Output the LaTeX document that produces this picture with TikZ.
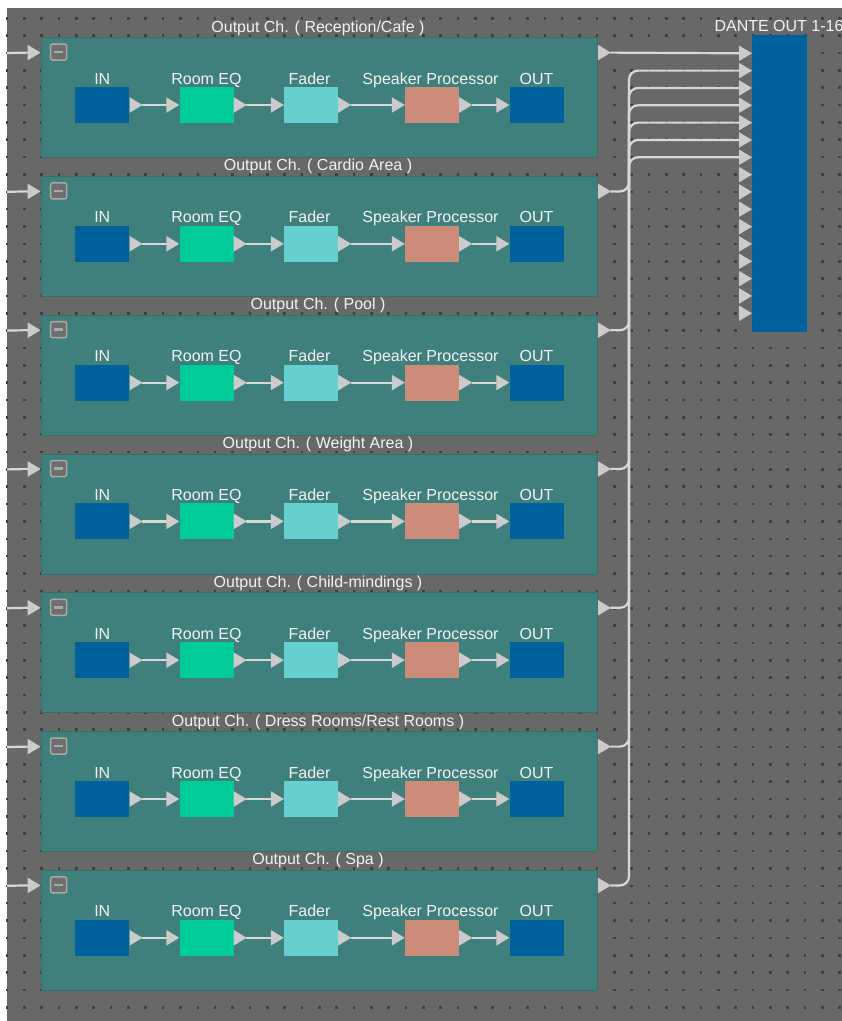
\documentclass[tikz,border=0pt]{standalone}
\usepackage{fontspec}
\setmainfont{Liberation Sans}
\usetikzlibrary{calc}
\definecolor{bgc}{HTML}{686868}
\definecolor{dotc}{HTML}{404040}
\definecolor{blkc}{HTML}{3F7F7C}
\definecolor{blkline}{HTML}{35706D}
\definecolor{inoutc}{HTML}{00629C}
\definecolor{eqc}{HTML}{00CC99}
\definecolor{fadc}{HTML}{66CFCF}
\definecolor{spc}{HTML}{CD8C7A}
\definecolor{portc}{HTML}{CBCBCB}
\definecolor{wirec}{HTML}{D8D8D8}
\definecolor{txtc}{HTML}{F2F2F2}
\definecolor{colc}{HTML}{6E6E6E}
\definecolor{colline}{HTML}{A9A9A9}
\newcommand\chname[1]{\ifcase#1\or Reception/Cafe\or Cardio Area\or Pool\or Weight Area\or Child-mindings\or Dress Rooms/Rest Rooms\or Spa\fi}
\begin{document}
\begin{tikzpicture}[x=1pt,y=-1pt,
  txt/.style={text=txtc, font=\fontsize{16}{19}\selectfont, inner sep=0pt, anchor=base},
  chblock/.style={fill=blkc, draw=blkline, line width=0.8pt, minimum width=556.5pt, minimum height=120pt, inner sep=0pt},
  proc/.style={minimum width=54pt, minimum height=36pt, inner sep=0pt},
  inout/.style={proc, fill=inoutc},
  roomeq/.style={proc, fill=eqc},
  fader/.style={proc, fill=fadc},
  spproc/.style={proc, fill=spc},
  dante/.style={fill=inoutc, minimum width=54.7pt, minimum height=296.7pt, inner sep=0pt},
  collapse/.style={fill=colc, draw=colline, line width=1.5pt, rounded corners=2pt, minimum size=16pt, inner sep=0pt},
  wire/.style={draw=wirec, line width=2.2pt},
  portR/.pic={\fill[portc] (0,-7.8) -- (13,0) -- (0,7.8) -- cycle;}
]
\useasboundingbox (0,0) rectangle (842,1021);
\clip (0,0) rectangle (842,1021);
% canvas
\fill[bgc] (7,7.5) rectangle (842,1021);
\foreach \i in {0,...,48}{
  \foreach \j in {0,...,57}{
    \fill[dotc] (6.95+17.35*\i-1.3, 18.3+17.35*\j-1.3) rectangle ++(2.6,2.6);
  }
}
\coordinate (bus) at (629,0);
% DANTE OUT
\node[dante] (dante) at (779.4,183.4) {};
\node[txt] (dantelbl) at (779,31) {DANTE OUT 1-16};
\foreach \j in {1,...,16}{
  \coordinate (dp\j) at (739,{53.3+17.33*(\j-1)});
  \pic at (dp\j) {portR};
}
% channel blocks
\foreach \k in {1,...,7}{
  \pgfmathsetmacro\T{37.5+138.8*(\k-1)}
  \node[chblock] (blk\k) at (319.25,\T+60) {};
  \node[txt] (ttl\k) at (318,\T-5.5) {Output Ch. ( \chname{\k} )};
  \node[collapse] (col\k) at ([xshift=18pt,yshift=-15pt]blk\k.north west) {};
  \fill[colline] ([xshift=-4.5pt,yshift=-1.3pt]col\k.center) rectangle ([xshift=4.5pt,yshift=1.3pt]col\k.center);
  % processing boxes
  \node[inout]  (in\k)  at (102.3,\T+67.5) {};
  \node[roomeq] (eq\k)  at (206.5,\T+67.5) {};
  \node[fader]  (fd\k)  at (311,\T+67.5) {};
  \node[spproc] (sp\k)  at (432,\T+67.5) {};
  \node[inout]  (out\k) at (536.5,\T+67.5) {};
  \node[txt] (lin\k)  at (102.3,\T+46.5) {IN};
  \node[txt] (leq\k)  at (206.5,\T+46.5) {Room EQ};
  \node[txt] (lfd\k)  at (309.5,\T+46.5) {Fader};
  \node[txt] (lsp\k)  at (430.5,\T+46.5) {Speaker Processor};
  \node[txt] (lout\k) at (536.5,\T+46.5) {OUT};
  \foreach \a/\b in {in/eq, eq/fd, fd/sp, sp/out}{
    \draw[wire] ([xshift=12.5pt]\a\k.east) -- ([xshift=-12.5pt]\b\k.west);
    \pic at (\a\k.east) {portR};
    \pic at ([xshift=-13pt]\b\k.west) {portR};
  }
  % block input
  \coordinate (bi\k) at ([yshift=-15.5pt]blk\k.north west);
  \coordinate (src\k) at (7,\T+15.5);
  \draw[wire] (src\k) -- ([xshift=-12.5pt]bi\k);
  \pic at ([xshift=-13pt]bi\k) {portR};
  % block output
  \coordinate (bo\k) at ([yshift=-15.5pt]blk\k.north east);
}
% outputs to DANTE
\draw[wire] ([xshift=12.5pt]bo1) -- (dp1);
\foreach \k in {2,...,7}{
  \draw[wire, rounded corners=9pt] ([xshift=12.5pt]bo\k) -- (bo\k -| bus) -- (dp\k -| bus) -- (dp\k);
}
\foreach \k in {1,...,7}{
  \pic at (bo\k) {portR};
}
\end{tikzpicture}
\end{document}
